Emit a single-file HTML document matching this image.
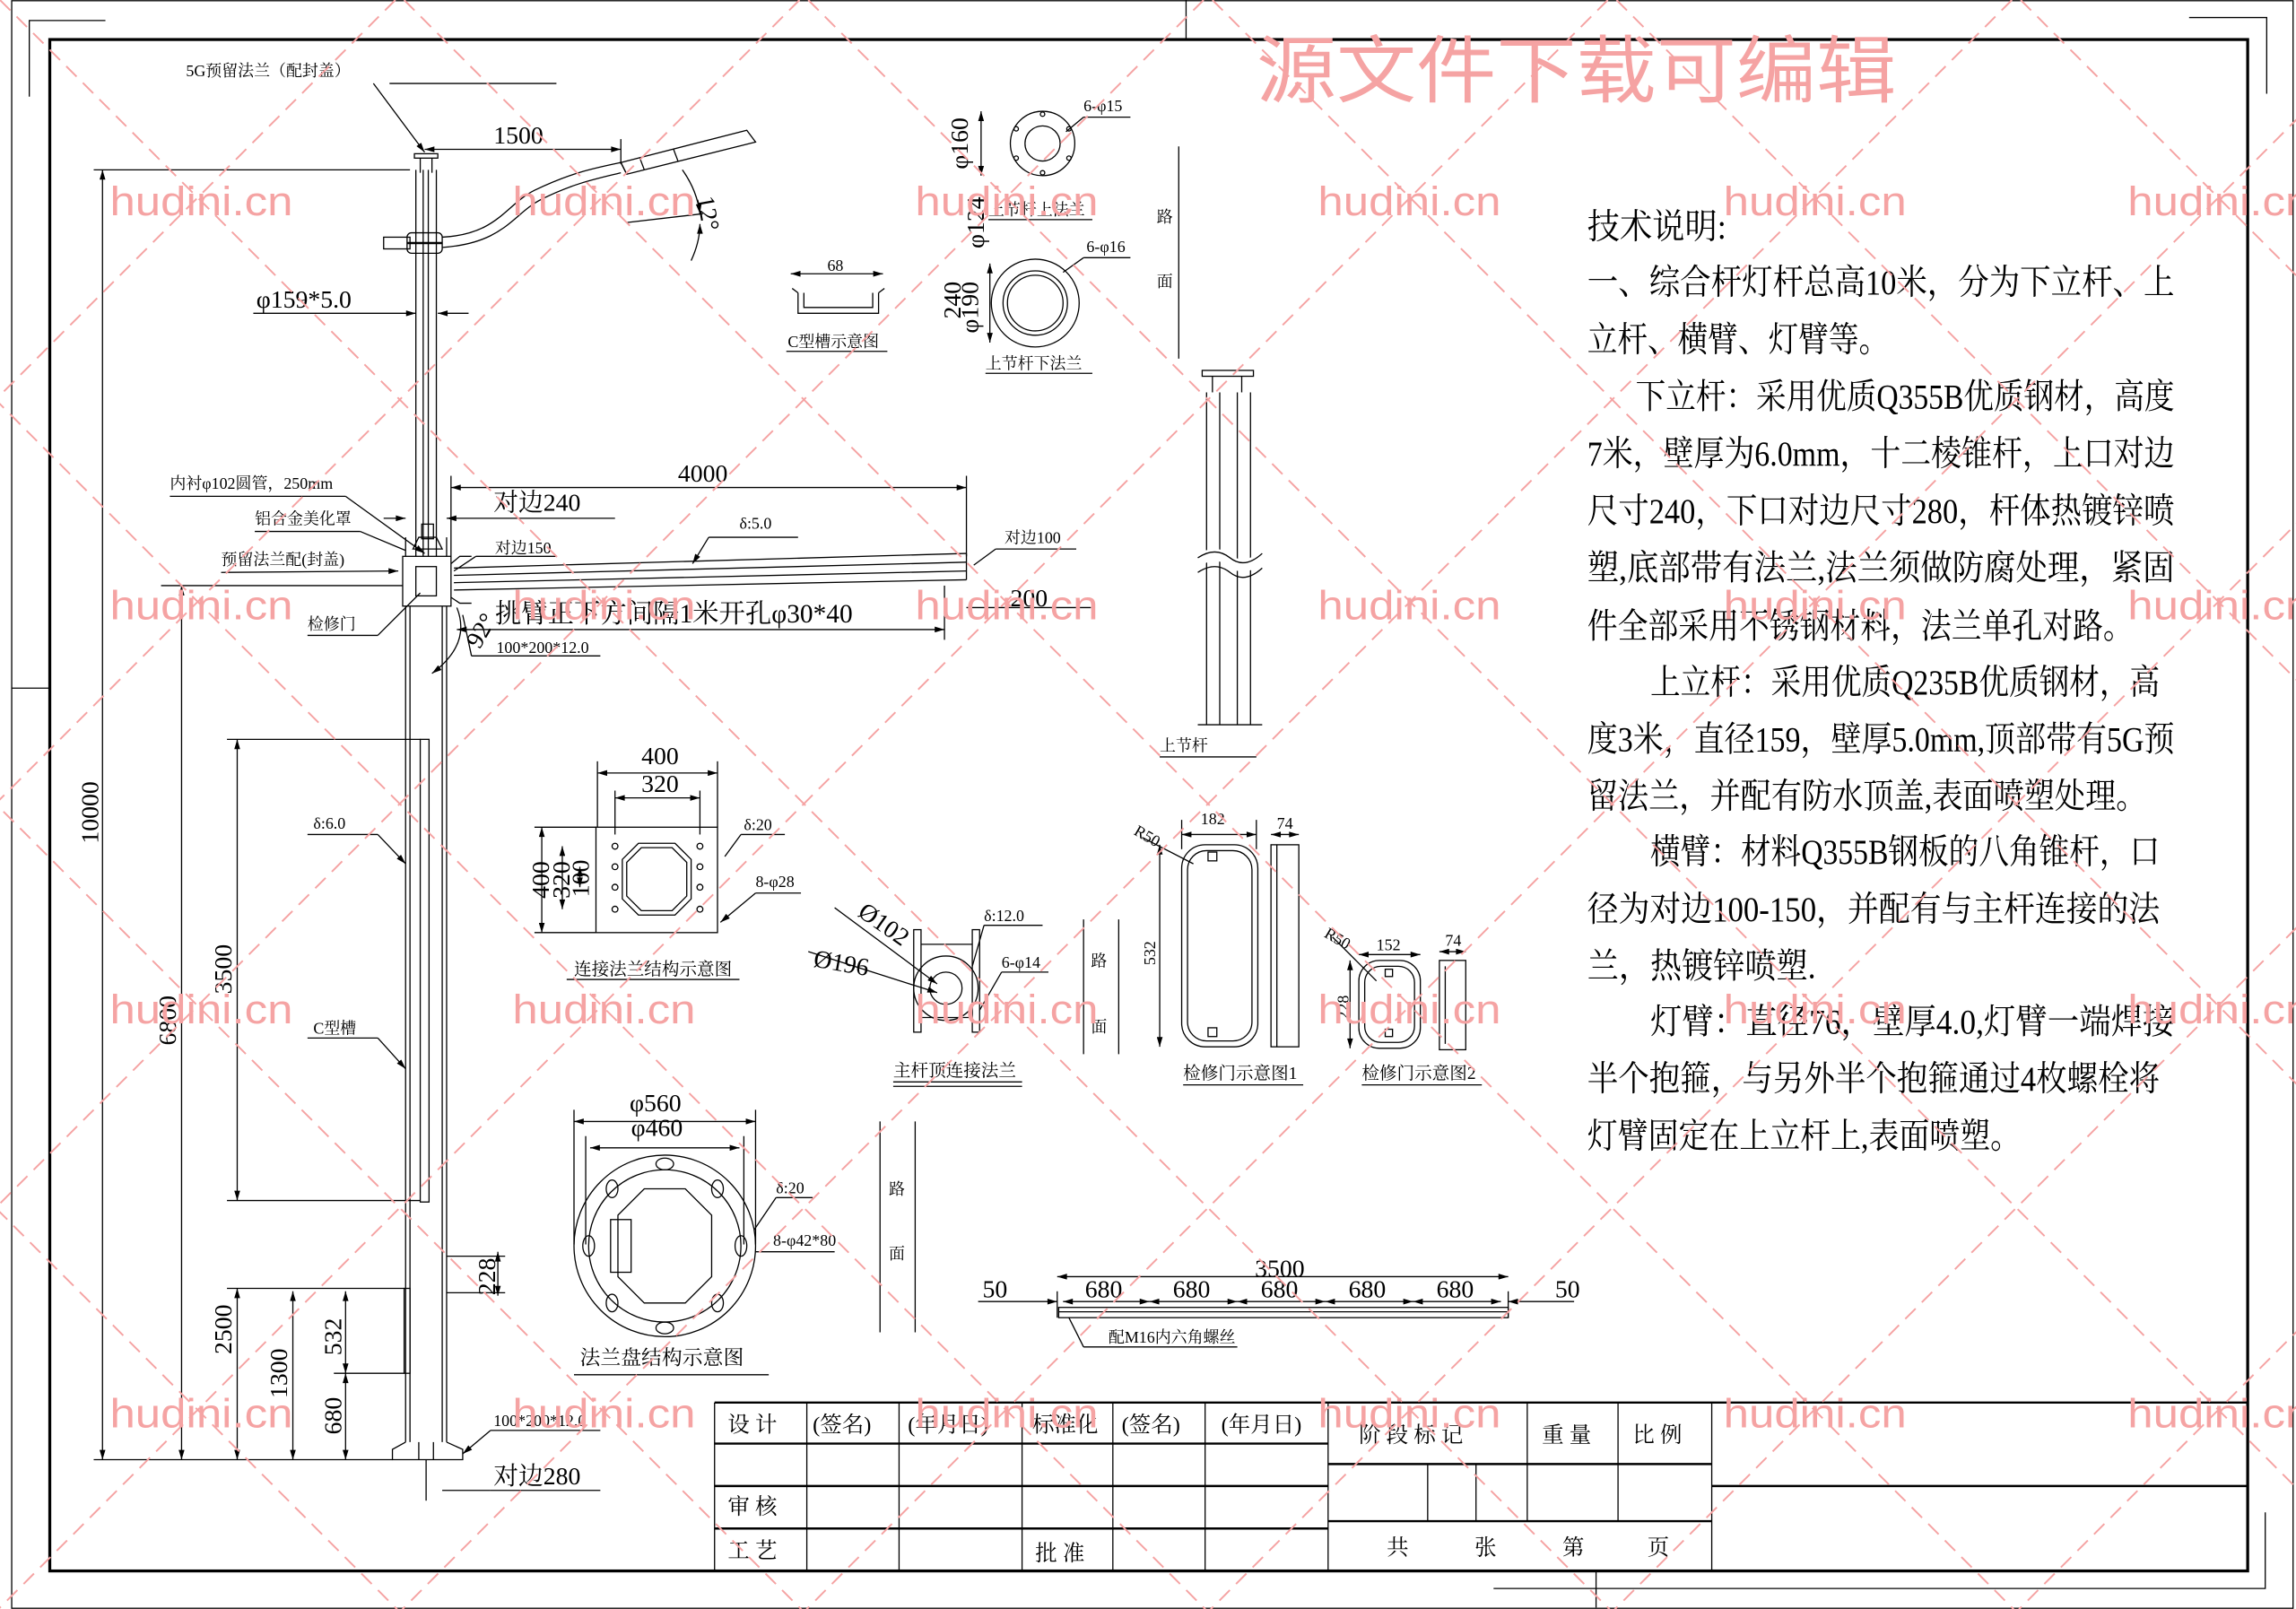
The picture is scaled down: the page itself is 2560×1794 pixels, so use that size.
<!DOCTYPE html>
<html><head><meta charset="utf-8"><style>
html,body{margin:0;padding:0;background:#fff}
svg{display:block}
text{font-family:"Liberation Serif","Noto Serif CJK SC",serif;fill:#000}
.s{font-family:"Liberation Sans","Noto Sans CJK SC",sans-serif}
</style></head><body>
<svg width="2560" height="1794" viewBox="0 0 1568 1099" preserveAspectRatio="none" xmlns="http://www.w3.org/2000/svg">
<defs>
<marker id="a" viewBox="0 0 10 6" refX="10" refY="3" markerWidth="10" markerHeight="4" orient="auto-start-reverse" markerUnits="userSpaceOnUse"><path d="M0,0L10,3L0,6z" fill="#000"/></marker>
</defs>
<rect width="1568" height="1099" fill="#fff"/>
<g stroke="#000" fill="none" stroke-width="0.8">
<rect x="8" y="0.5" width="1558" height="1098" stroke-width="0.8"/>
<rect x="34" y="27" width="1501" height="1046" stroke-width="2"/>
<polyline points="72,14 20,14 20,66"/>
<polyline points="1495,12 1548,12 1548,64"/>
<polyline points="1020,1085 1547,1085 1547,1033"/>
<line x1="8" y1="470" x2="34" y2="470"/>
<line x1="810" y1="0" x2="810" y2="27"/>
<line x1="1090" y1="1073" x2="1090" y2="1098"/>
<line x1="488" y1="958" x2="1535" y2="958" stroke-width="1.5"/>
<line x1="488" y1="986" x2="907" y2="986" stroke-width="1.5"/>
<line x1="488" y1="1015" x2="907" y2="1015" stroke-width="1.5"/>
<line x1="488" y1="1044" x2="907" y2="1044" stroke-width="1.5"/>
<line x1="907" y1="1000" x2="1169" y2="1000" stroke-width="1.5"/>
<line x1="907" y1="1039" x2="1169" y2="1039" stroke-width="1.5"/>
<line x1="1169" y1="1015" x2="1535" y2="1015" stroke-width="1.5"/>
<line x1="488" y1="958" x2="488" y2="1073"/>
<line x1="551" y1="958" x2="551" y2="1073"/>
<line x1="614" y1="958" x2="614" y2="1073"/>
<line x1="698" y1="958" x2="698" y2="1073"/>
<line x1="760" y1="958" x2="760" y2="1073"/>
<line x1="823" y1="958" x2="823" y2="1073"/>
<line x1="907" y1="958" x2="907" y2="1073"/>
<line x1="975" y1="1000" x2="975" y2="1039"/>
<line x1="1008" y1="1000" x2="1008" y2="1039"/>
<line x1="1043" y1="958" x2="1043" y2="1039"/>
<line x1="1105" y1="958" x2="1105" y2="1039"/>
<line x1="1169" y1="958" x2="1169" y2="1073"/>

<rect x="283" y="105" width="16" height="3"/>
<line x1="287" y1="108" x2="287" y2="118"/><line x1="295" y1="108" x2="295" y2="118"/>
<line x1="284" y1="116" x2="284" y2="380"/><line x1="298" y1="116" x2="298" y2="380"/>
<line x1="289" y1="116" x2="289" y2="380"/><line x1="292.5" y1="116" x2="292.5" y2="380"/>
<rect x="262" y="162" width="18" height="8"/>
<rect x="278" y="159" width="24" height="14" rx="3"/>
<line x1="278" y1="166" x2="302" y2="166" stroke-width="1.5"/>
<path d="M302,162 C340,160 345,140 365,130 C390,118 405,115 424,111"/>
<path d="M302,169 C345,166 350,146 370,136 C392,125 408,122 424,118"/>
<path d="M424,111 L510,89 L516,97 L428,119 Z"/>
<line x1="424" y1="111" x2="428" y2="119"/><line x1="437" y1="108" x2="440" y2="116"/>
<line x1="460" y1="102" x2="463" y2="110"/>
<line x1="290" y1="102" x2="424" y2="102" marker-start="url(#a)" marker-end="url(#a)"/>
<line x1="424" y1="95" x2="424" y2="112"/>
<line x1="266" y1="57" x2="380" y2="57"/><line x1="255" y1="57" x2="290" y2="104" marker-end="url(#a)"/>
<line x1="428" y1="152" x2="480" y2="146"/>
<path d="M466,116 Q476,130 478,146" marker-end="url(#a)"/>
<path d="M472,178 Q478,165 478,153" marker-end="url(#a)"/>
<line x1="173" y1="214" x2="284" y2="214" marker-end="url(#a)"/>
<line x1="320" y1="214" x2="299" y2="214" marker-end="url(#a)"/>

<rect x="288" y="358" width="8" height="10"/>
<path d="M282,375 L286,367 L298,367 L302,375 Z"/>
<rect x="275" y="380" width="33" height="34"/>
<rect x="284" y="387" width="14" height="20"/>
<line x1="277" y1="414" x2="277" y2="985"/><line x1="305" y1="414" x2="305" y2="985"/>
<line x1="277" y1="367" x2="277" y2="380"/><line x1="305" y1="367" x2="305" y2="380"/>
<line x1="280" y1="414" x2="280" y2="985"/><line x1="302" y1="414" x2="302" y2="985"/>
<rect x="287" y="505" width="6" height="316"/>
<rect x="276" y="880" width="4" height="58"/>
<path d="M277,985 L268,990 L268,997 L316,997 L316,990 L305,985"/>
<line x1="286" y1="985" x2="286" y2="997"/><line x1="296" y1="985" x2="296" y2="997"/>
<line x1="291" y1="997" x2="291" y2="1025"/>
<path d="M308,385 L314,380 L322,380"/><path d="M308,408 L314,412 L322,412"/>
<line x1="310" y1="388" x2="660" y2="378"/>
<line x1="310" y1="393" x2="660" y2="384"/>
<line x1="310" y1="398" x2="660" y2="390"/>
<line x1="310" y1="403" x2="660" y2="396"/>
<line x1="660" y1="378" x2="660" y2="396"/>
<line x1="308" y1="333" x2="660" y2="333" marker-start="url(#a)" marker-end="url(#a)"/>
<line x1="660" y1="325" x2="660" y2="380"/>
<line x1="308" y1="325" x2="308" y2="380"/>
<line x1="262" y1="354" x2="277" y2="354" marker-end="url(#a)"/>
<line x1="420" y1="354" x2="305" y2="354" marker-end="url(#a)"/>
<line x1="380" y1="380" x2="325" y2="380"/><line x1="325" y1="380" x2="310" y2="390"/>
<line x1="484" y1="367" x2="545" y2="367"/><line x1="484" y1="367" x2="473" y2="385" marker-end="url(#a)"/>
<line x1="680" y1="375" x2="735" y2="375"/><line x1="680" y1="375" x2="665" y2="386"/>
<line x1="312" y1="430" x2="645" y2="430" marker-start="url(#a)" marker-end="url(#a)"/>
<line x1="645" y1="400" x2="645" y2="437"/>
<line x1="660" y1="415" x2="745" y2="415"/>
<path d="M312,415 Q322,440 295,460" marker-end="url(#a)"/>
<line x1="322" y1="448" x2="410" y2="448"/><line x1="322" y1="448" x2="316" y2="420"/>
<line x1="116" y1="339" x2="236" y2="339"/><line x1="236" y1="339" x2="290" y2="378" marker-end="url(#a)"/>
<line x1="174" y1="363" x2="246" y2="363"/><line x1="246" y1="363" x2="277" y2="376"/>
<line x1="151" y1="391" x2="272" y2="390" marker-end="url(#a)"/>
<line x1="210" y1="434" x2="258" y2="434"/><line x1="258" y1="434" x2="287" y2="405"/>
<line x1="210" y1="570" x2="258" y2="570"/><line x1="258" y1="570" x2="277" y2="590" marker-end="url(#a)"/>
<line x1="210" y1="709" x2="258" y2="709"/><line x1="258" y1="709" x2="277" y2="730" marker-end="url(#a)"/>
<line x1="335" y1="977" x2="410" y2="977"/><line x1="335" y1="977" x2="316" y2="993" marker-end="url(#a)"/>
<line x1="335" y1="1018" x2="410" y2="1018"/>
<line x1="302" y1="1018" x2="335" y2="1018"/>
<line x1="64" y1="116" x2="280" y2="116"/>
<line x1="70" y1="116" x2="70" y2="997" marker-start="url(#a)" marker-end="url(#a)"/>
<line x1="64" y1="997" x2="268" y2="997"/>
<line x1="110" y1="400" x2="275" y2="400"/>
<line x1="124" y1="400" x2="124" y2="997" marker-start="url(#a)" marker-end="url(#a)"/>
<line x1="155" y1="505" x2="287" y2="505"/>
<line x1="162" y1="505" x2="162" y2="820" marker-start="url(#a)" marker-end="url(#a)"/>
<line x1="155" y1="820" x2="287" y2="820"/>
<line x1="162" y1="880" x2="162" y2="997" marker-start="url(#a)" marker-end="url(#a)"/>
<line x1="155" y1="880" x2="276" y2="880"/>
<line x1="200" y1="882" x2="200" y2="997" marker-start="url(#a)" marker-end="url(#a)"/>
<line x1="236" y1="882" x2="236" y2="938" marker-start="url(#a)" marker-end="url(#a)"/>
<line x1="236" y1="938" x2="236" y2="997" marker-start="url(#a)" marker-end="url(#a)"/>
<line x1="228" y1="938" x2="276" y2="938"/>
<line x1="340" y1="855" x2="340" y2="885" marker-start="url(#a)" marker-end="url(#a)"/>
<line x1="305" y1="858" x2="345" y2="858"/><line x1="305" y1="883" x2="345" y2="883"/>

<circle cx="712" cy="98" r="22"/><circle cx="712" cy="98" r="12"/>
<circle cx="712" cy="78" r="1.5"/><circle cx="712" cy="118" r="1.5"/><circle cx="694" cy="88" r="1.5"/><circle cx="730" cy="88" r="1.5"/><circle cx="694" cy="108" r="1.5"/><circle cx="730" cy="108" r="1.5"/>
<line x1="670" y1="76" x2="670" y2="120" marker-start="url(#a)" marker-end="url(#a)"/>
<line x1="740" y1="80" x2="772" y2="80"/><line x1="740" y1="80" x2="728" y2="90"/>
<line x1="675" y1="150" x2="746" y2="150"/>
<circle cx="707" cy="207" r="30"/><circle cx="707" cy="207" r="22"/><circle cx="707" cy="207" r="19"/>
<line x1="676" y1="180" x2="676" y2="234" marker-start="url(#a)" marker-end="url(#a)"/>
<line x1="740" y1="176" x2="772" y2="176"/><line x1="740" y1="176" x2="726" y2="186"/>
<line x1="673" y1="255" x2="746" y2="255"/>
<line x1="540" y1="187" x2="603" y2="187" marker-start="url(#a)" marker-end="url(#a)"/>
<path d="M545,200 L545,214 L600,214 L600,200 M549,200 L549,210 L596,210 L596,200 M541,197 L545,200 M604,197 L600,200"/>
<line x1="537" y1="240" x2="606" y2="240"/>
<line x1="805" y1="100" x2="805" y2="245"/>
<rect x="821" y="253" width="35" height="4"/>
<line x1="828" y1="257" x2="828" y2="268"/><line x1="848" y1="257" x2="848" y2="268"/>
<line x1="824" y1="268" x2="824" y2="495"/><line x1="854" y1="268" x2="854" y2="495"/>
<line x1="833" y1="268" x2="833" y2="495"/><line x1="845" y1="268" x2="845" y2="495"/>
<path d="M818,383 Q830,375 840,383 T862,380" stroke="#fff" stroke-width="8"/>
<path d="M818,381 Q830,373 840,381 T862,378"/>
<path d="M818,391 Q830,383 840,391 T862,388"/>
<line x1="818" y1="495" x2="862" y2="495"/>
<line x1="792" y1="517" x2="858" y2="517"/>
<line x1="408" y1="528" x2="490" y2="528" marker-start="url(#a)" marker-end="url(#a)"/>
<line x1="420" y1="545" x2="478" y2="545" marker-start="url(#a)" marker-end="url(#a)"/>
<line x1="408" y1="520" x2="408" y2="565"/><line x1="490" y1="520" x2="490" y2="565"/>
<line x1="420" y1="540" x2="420" y2="570"/><line x1="478" y1="540" x2="478" y2="570"/>
<rect x="407" y="565" width="83" height="72"/>
<polygon points="436,576 461,576 472,587 472,614 461,625 436,625 425,614 425,587"/>
<polygon points="438,579 459,579 469,589 469,612 459,622 438,622 428,612 428,589"/>
<circle cx="420" cy="578" r="2"/><circle cx="420" cy="592" r="2"/><circle cx="420" cy="606" r="2"/><circle cx="420" cy="621" r="2"/>
<circle cx="478" cy="578" r="2"/><circle cx="478" cy="592" r="2"/><circle cx="478" cy="606" r="2"/><circle cx="478" cy="621" r="2"/>
<line x1="365" y1="565" x2="407" y2="565"/><line x1="365" y1="637" x2="407" y2="637"/>
<line x1="370" y1="565" x2="370" y2="637" marker-start="url(#a)" marker-end="url(#a)"/>
<line x1="384" y1="578" x2="384" y2="621" marker-start="url(#a)" marker-end="url(#a)"/>
<line x1="396" y1="592" x2="396" y2="606" marker-start="url(#a)" marker-end="url(#a)"/>
<line x1="506" y1="570" x2="536" y2="570"/><line x1="506" y1="570" x2="495" y2="585"/>
<line x1="516" y1="610" x2="547" y2="610"/><line x1="516" y1="610" x2="492" y2="630" marker-end="url(#a)"/>
<line x1="387" y1="669" x2="505" y2="669"/>
<rect x="624" y="635" width="5" height="70"/><rect x="664" y="635" width="5" height="70"/>
<line x1="629" y1="645" x2="664" y2="645"/><line x1="629" y1="695" x2="664" y2="695"/>
<circle cx="646" cy="675" r="22"/><circle cx="646" cy="675" r="11"/>
<line x1="570" y1="620" x2="640" y2="672" marker-end="url(#a)"/>
<line x1="552" y1="650" x2="640" y2="678" marker-end="url(#a)"/>
<line x1="672" y1="632" x2="712" y2="632"/><line x1="672" y1="632" x2="664" y2="660"/>
<line x1="684" y1="664" x2="716" y2="664"/><line x1="684" y1="664" x2="669" y2="690"/>
<line x1="610" y1="739" x2="698" y2="739"/><line x1="610" y1="742" x2="698" y2="742"/>
<line x1="740" y1="628" x2="740" y2="720"/><line x1="764" y1="628" x2="764" y2="720"/>
<line x1="807" y1="570" x2="858" y2="570" marker-start="url(#a)" marker-end="url(#a)"/>
<line x1="807" y1="560" x2="807" y2="580"/><line x1="858" y1="560" x2="858" y2="580"/>
<rect x="807" y="577" width="52" height="138" rx="16"/>
<rect x="811" y="581" width="44" height="130" rx="13"/>
<rect x="825" y="582" width="6" height="6"/><rect x="825" y="702" width="6" height="6"/>
<line x1="792" y1="577" x2="792" y2="715" marker-start="url(#a)" marker-end="url(#a)"/>
<line x1="780" y1="572" x2="815" y2="590"/>
<rect x="868" y="577" width="19" height="138"/><line x1="872" y1="577" x2="872" y2="715"/>
<line x1="868" y1="570" x2="887" y2="570" marker-start="url(#a)" marker-end="url(#a)"/>
<line x1="808" y1="741" x2="890" y2="741"/>
<line x1="928" y1="652" x2="970" y2="652" marker-start="url(#a)" marker-end="url(#a)"/>
<rect x="928" y="656" width="42" height="60" rx="14"/>
<rect x="932" y="660" width="34" height="52" rx="11"/>
<rect x="946" y="662" width="5" height="5"/><rect x="946" y="703" width="5" height="5"/>
<line x1="922" y1="656" x2="922" y2="716" marker-start="url(#a)" marker-end="url(#a)"/>
<line x1="910" y1="640" x2="940" y2="670"/>
<rect x="983" y="656" width="18" height="61"/><line x1="987" y1="660" x2="987" y2="713"/>
<line x1="983" y1="650" x2="1001" y2="650" marker-start="url(#a)" marker-end="url(#a)"/>
<line x1="930" y1="741" x2="1012" y2="741"/>
<!-- base flange -->
<line x1="392" y1="766" x2="516" y2="766" marker-start="url(#a)" marker-end="url(#a)"/>
<line x1="403" y1="784" x2="505" y2="784" marker-start="url(#a)" marker-end="url(#a)"/>
<line x1="392" y1="758" x2="392" y2="850"/><line x1="516" y1="758" x2="516" y2="850"/>
<line x1="400" y1="776" x2="400" y2="850"/><line x1="508" y1="776" x2="508" y2="850"/>
<ellipse cx="454" cy="851" rx="62" ry="62"/>
<ellipse cx="454" cy="851" rx="52" ry="52"/>
<polygon points="440,812 468,812 486,830 486,872 468,890 440,890 422,872 422,830"/>
<rect x="417" y="833" width="14" height="36"/>
<ellipse cx="454" cy="795" rx="6" ry="4"/><ellipse cx="454" cy="907" rx="6" ry="4"/>
<ellipse cx="402" cy="851" rx="4" ry="7"/><ellipse cx="506" cy="851" rx="4" ry="7"/>
<ellipse cx="418" cy="812" rx="4" ry="6"/><ellipse cx="490" cy="812" rx="4" ry="6"/>
<ellipse cx="418" cy="890" rx="4" ry="6"/><ellipse cx="490" cy="890" rx="4" ry="6"/>
<line x1="530" y1="818" x2="555" y2="818"/><line x1="530" y1="818" x2="515" y2="840"/>
<line x1="516" y1="855" x2="570" y2="855"/>
<line x1="392" y1="939" x2="525" y2="939"/>
<line x1="601" y1="766" x2="601" y2="910"/><line x1="625" y1="766" x2="625" y2="910"/>
<line x1="668" y1="889" x2="722" y2="889" marker-end="url(#a)"/>
<line x1="722" y1="872" x2="1030" y2="872" marker-start="url(#a)" marker-end="url(#a)"/>
<line x1="722" y1="882" x2="722" y2="900"/><line x1="1030" y1="882" x2="1030" y2="900"/>
<line x1="726" y1="889" x2="785" y2="889" marker-start="url(#a)" marker-end="url(#a)"/>
<line x1="785" y1="889" x2="845" y2="889" marker-start="url(#a)" marker-end="url(#a)"/>
<line x1="845" y1="889" x2="905" y2="889" marker-start="url(#a)" marker-end="url(#a)"/>
<line x1="905" y1="889" x2="965" y2="889" marker-start="url(#a)" marker-end="url(#a)"/>
<line x1="965" y1="889" x2="1025" y2="889" marker-start="url(#a)" marker-end="url(#a)"/>
<line x1="1075" y1="889" x2="1030" y2="889" marker-end="url(#a)"/>
<rect x="723" y="893" width="307" height="7"/>
<line x1="723" y1="896" x2="1030" y2="896"/>
<line x1="730" y1="900" x2="740" y2="920"/><line x1="740" y1="920" x2="845" y2="920"/>
</g>

<g font-size="11">
<text x="127" y="52">5G预留法兰（配封盖）</text>
<text x="116" y="334">内衬φ102圆管，250mm</text>
<text x="174" y="358">铝合金美化罩</text>
<text x="151" y="386">预留法兰配(封盖)</text>
<text x="210" y="430">检修门</text>
<text x="338" y="378">对边150</text>
<text x="505" y="361">δ:5.0</text>
<text x="686" y="371">对边100</text>
<text x="339" y="446">100*200*12.0</text>
<text x="214" y="566">δ:6.0</text>
<text x="214" y="706">C型槽</text>
<text x="337" y="974">100*200*12.0</text>
<text x="740" y="76">6-φ15</text>
<text x="675" y="147">上节杆上法兰</text>
<text x="742" y="172">6-φ16</text>
<text x="673" y="252">上节杆下法兰</text>
<text x="565" y="185">68</text>
<text x="538" y="237">C型槽示意图</text>
<text x="790" y="152">路</text><text x="790" y="196">面</text>
<text x="792" y="513">上节杆</text>
<text x="508" y="567">δ:20</text>
<text x="516" y="606">8-φ28</text>
<text x="392" y="666" font-size="12">连接法兰结构示意图</text>
<text x="672" y="629">δ:12.0</text>
<text x="684" y="661">6-φ14</text>
<text x="745" y="660">路</text><text x="745" y="705">面</text>
<text x="610" y="735" font-size="12">主杆顶连接法兰</text>
<text x="775" y="571" transform="rotate(30 777 568)">R50</text>
<text x="820" y="563">182</text><text x="872" y="566">74</text>
<text x="808" y="737" font-size="12">检修门示意图1</text>
<text x="905" y="641" transform="rotate(30 907 638)">R50</text>
<text x="940" y="649">152</text><text x="987" y="646">74</text>
<text x="930" y="737" font-size="12">检修门示意图2</text>
<text x="530" y="815">δ:20</text>
<text x="528" y="851">8-φ42*80</text>
<text x="607" y="816">路</text><text x="607" y="860">面</text>
<text x="757" y="917">配M16内六角螺丝</text>
<text x="789" y="651" transform="rotate(-90 789 651)" text-anchor="middle">532</text>
<text x="921" y="688" transform="rotate(-90 921 688)" text-anchor="middle">228</text>
</g>
<g font-size="17">
<text x="337" y="98">1500</text>
<text x="476" y="145" transform="rotate(80 482 140)">12°</text>
<text x="175" y="210">φ159*5.0</text>
<text x="337" y="349">对边240</text>
<text x="463" y="329">4000</text>
<text x="338" y="425" font-size="18">挑臂正下方间隔1米开孔φ30*40</text>
<text x="690" y="414">200</text>
<text x="316" y="440" transform="rotate(-60 325 432)">92°</text>
<text x="337" y="1014">对边280</text>
<text x="67" y="555" transform="rotate(-90 67 555)" text-anchor="middle">10000</text>
<text x="120" y="697" transform="rotate(-90 120 697)" text-anchor="middle">6800</text>
<text x="158" y="662" transform="rotate(-90 158 662)" text-anchor="middle">3500</text>
<text x="158" y="908" transform="rotate(-90 158 908)" text-anchor="middle">2500</text>
<text x="196" y="938" transform="rotate(-90 196 938)" text-anchor="middle">1300</text>
<text x="233" y="913" transform="rotate(-90 233 913)" text-anchor="middle">532</text>
<text x="233" y="967" transform="rotate(-90 233 967)" text-anchor="middle">680</text>
<text x="338" y="872" transform="rotate(-90 338 872)" text-anchor="middle">228</text>
<text x="661" y="98" transform="rotate(-90 661 98)" text-anchor="middle">φ160</text>
<text x="672" y="152" transform="rotate(-90 672 152)" text-anchor="middle">φ124</text>
<text x="656" y="205" transform="rotate(-90 656 205)" text-anchor="middle">240</text>
<text x="668" y="210" transform="rotate(-90 668 210)" text-anchor="middle">φ190</text>
<text x="438" y="522">400</text>
<text x="438" y="541">320</text>
<text x="375" y="601" transform="rotate(-90 375 601)" text-anchor="middle">400</text>
<text x="389" y="601" transform="rotate(-90 389 601)" text-anchor="middle">320</text>
<text x="402" y="600" transform="rotate(-90 402 600)" text-anchor="middle">100</text>
<text x="585" y="625" transform="rotate(35 585 625)">Ø102</text>
<text x="555" y="660" transform="rotate(10 555 660)">Ø196</text>
<text x="430" y="759">φ560</text>
<text x="431" y="776">φ460</text>
<text x="396" y="932" font-size="14">法兰盘结构示意图</text>
<text x="671" y="886">50</text>
<text x="741" y="886">680</text><text x="801" y="886">680</text><text x="861" y="886">680</text><text x="921" y="886">680</text><text x="981" y="886">680</text>
<text x="857" y="872">3500</text>
<text x="1062" y="886">50</text>
</g>

<g font-size="24">
<text x="1084" y="163" textLength="95" lengthAdjust="spacingAndGlyphs">技术说明:</text>
<text x="1084" y="201" textLength="401" lengthAdjust="spacingAndGlyphs">一、综合杆灯杆总高10米，分为下立杆、上</text>
<text x="1084" y="240" textLength="206" lengthAdjust="spacingAndGlyphs">立杆、横臂、灯臂等。</text>
<text x="1117" y="279" textLength="368" lengthAdjust="spacingAndGlyphs">下立杆：采用优质Q355B优质钢材，高度</text>
<text x="1084" y="318" textLength="401" lengthAdjust="spacingAndGlyphs">7米，壁厚为6.0mm，十二棱锥杆，上口对边</text>
<text x="1084" y="357" textLength="401" lengthAdjust="spacingAndGlyphs">尺寸240，下口对边尺寸280，杆体热镀锌喷</text>
<text x="1084" y="396" textLength="401" lengthAdjust="spacingAndGlyphs">塑,底部带有法兰,法兰须做防腐处理，紧固</text>
<text x="1084" y="436" textLength="373" lengthAdjust="spacingAndGlyphs">件全部采用不锈钢材料，法兰单孔对路。</text>
<text x="1127" y="474" textLength="348" lengthAdjust="spacingAndGlyphs">上立杆：采用优质Q235B优质钢材，高</text>
<text x="1084" y="513" textLength="401" lengthAdjust="spacingAndGlyphs">度3米，直径159，壁厚5.0mm,顶部带有5G预</text>
<text x="1084" y="552" textLength="382" lengthAdjust="spacingAndGlyphs">留法兰，并配有防水顶盖,表面喷塑处理。</text>
<text x="1127" y="590" textLength="348" lengthAdjust="spacingAndGlyphs">横臂：材料Q355B钢板的八角锥杆，口</text>
<text x="1084" y="629" textLength="391" lengthAdjust="spacingAndGlyphs">径为对边100-150，并配有与主杆连接的法</text>
<text x="1084" y="668" textLength="156" lengthAdjust="spacingAndGlyphs">兰，热镀锌喷塑.</text>
<text x="1127" y="706" textLength="358" lengthAdjust="spacingAndGlyphs">灯臂：直径76，壁厚4.0,灯臂一端焊接</text>
<text x="1084" y="745" textLength="391" lengthAdjust="spacingAndGlyphs">半个抱箍，与另外半个抱箍通过4枚螺栓将</text>
<text x="1084" y="784" textLength="296" lengthAdjust="spacingAndGlyphs">灯臂固定在上立杆上,表面喷塑。</text>
</g>

<g font-size="15">
<text x="497" y="978">设  计</text><text x="555" y="978">(签名)</text><text x="620" y="978">(年月日)</text>
<text x="705" y="978">标准化</text><text x="766" y="978">(签名)</text><text x="834" y="978">(年月日)</text>
<text x="928" y="985">阶  段  标  记</text><text x="1053" y="985">重  量</text><text x="1115" y="985">比  例</text>
<text x="497" y="1034">审  核</text>
<text x="497" y="1064">工  艺</text>
<text x="707" y="1066">批  准</text>
<text x="947" y="1062">共</text><text x="1007" y="1062">张</text><text x="1067" y="1062">第</text><text x="1125" y="1062">页</text>
</g>

<g stroke="#f5a3a3" stroke-width="1.2" stroke-dasharray="10 6" fill="none">
<line x1="-1104" y1="0" x2="-4" y2="1100"/>
<line x1="-828" y1="0" x2="272" y2="1100"/>
<line x1="-552" y1="0" x2="548" y2="1100"/>
<line x1="-276" y1="0" x2="824" y2="1100"/>
<line x1="0" y1="0" x2="1100" y2="1100"/>
<line x1="276" y1="0" x2="1376" y2="1100"/>
<line x1="552" y1="0" x2="1652" y2="1100"/>
<line x1="828" y1="0" x2="1928" y2="1100"/>
<line x1="1104" y1="0" x2="2204" y2="1100"/>
<line x1="1380" y1="0" x2="2480" y2="1100"/>
<line x1="270" y1="0" x2="-830" y2="1100"/>
<line x1="546" y1="0" x2="-554" y2="1100"/>
<line x1="822" y1="0" x2="-278" y2="1100"/>
<line x1="1098" y1="0" x2="-2" y2="1100"/>
<line x1="1374" y1="0" x2="274" y2="1100"/>
<line x1="1650" y1="0" x2="550" y2="1100"/>
<line x1="1926" y1="0" x2="826" y2="1100"/>
<line x1="2202" y1="0" x2="1102" y2="1100"/>
<line x1="2478" y1="0" x2="1378" y2="1100"/>
<line x1="2754" y1="0" x2="1654" y2="1100"/>
</g>
<g font-size="28">
<text class="s" x="858" y="66" font-size="50" textLength="437" lengthAdjust="spacingAndGlyphs" style="fill:#f5a3a3">源文件下载可编辑</text>
<text class="s" x="75" y="147" textLength="125" lengthAdjust="spacingAndGlyphs" style="fill:#f5a3a3">hudini.cn</text><text class="s" x="350" y="147" textLength="125" lengthAdjust="spacingAndGlyphs" style="fill:#f5a3a3">hudini.cn</text><text class="s" x="625" y="147" textLength="125" lengthAdjust="spacingAndGlyphs" style="fill:#f5a3a3">hudini.cn</text><text class="s" x="900" y="147" textLength="125" lengthAdjust="spacingAndGlyphs" style="fill:#f5a3a3">hudini.cn</text><text class="s" x="1177" y="147" textLength="125" lengthAdjust="spacingAndGlyphs" style="fill:#f5a3a3">hudini.cn</text><text class="s" x="1453" y="147" textLength="125" lengthAdjust="spacingAndGlyphs" style="fill:#f5a3a3">hudini.cn</text>
<text class="s" x="75" y="423" textLength="125" lengthAdjust="spacingAndGlyphs" style="fill:#f5a3a3">hudini.cn</text><text class="s" x="350" y="423" textLength="125" lengthAdjust="spacingAndGlyphs" style="fill:#f5a3a3">hudini.cn</text><text class="s" x="625" y="423" textLength="125" lengthAdjust="spacingAndGlyphs" style="fill:#f5a3a3">hudini.cn</text><text class="s" x="900" y="423" textLength="125" lengthAdjust="spacingAndGlyphs" style="fill:#f5a3a3">hudini.cn</text><text class="s" x="1177" y="423" textLength="125" lengthAdjust="spacingAndGlyphs" style="fill:#f5a3a3">hudini.cn</text><text class="s" x="1453" y="423" textLength="125" lengthAdjust="spacingAndGlyphs" style="fill:#f5a3a3">hudini.cn</text>
<text class="s" x="75" y="699" textLength="125" lengthAdjust="spacingAndGlyphs" style="fill:#f5a3a3">hudini.cn</text><text class="s" x="350" y="699" textLength="125" lengthAdjust="spacingAndGlyphs" style="fill:#f5a3a3">hudini.cn</text><text class="s" x="625" y="699" textLength="125" lengthAdjust="spacingAndGlyphs" style="fill:#f5a3a3">hudini.cn</text><text class="s" x="900" y="699" textLength="125" lengthAdjust="spacingAndGlyphs" style="fill:#f5a3a3">hudini.cn</text><text class="s" x="1177" y="699" textLength="125" lengthAdjust="spacingAndGlyphs" style="fill:#f5a3a3">hudini.cn</text><text class="s" x="1453" y="699" textLength="125" lengthAdjust="spacingAndGlyphs" style="fill:#f5a3a3">hudini.cn</text>
<text class="s" x="75" y="975" textLength="125" lengthAdjust="spacingAndGlyphs" style="fill:#f5a3a3">hudini.cn</text><text class="s" x="350" y="975" textLength="125" lengthAdjust="spacingAndGlyphs" style="fill:#f5a3a3">hudini.cn</text><text class="s" x="625" y="975" textLength="125" lengthAdjust="spacingAndGlyphs" style="fill:#f5a3a3">hudini.cn</text><text class="s" x="900" y="975" textLength="125" lengthAdjust="spacingAndGlyphs" style="fill:#f5a3a3">hudini.cn</text><text class="s" x="1177" y="975" textLength="125" lengthAdjust="spacingAndGlyphs" style="fill:#f5a3a3">hudini.cn</text><text class="s" x="1453" y="975" textLength="125" lengthAdjust="spacingAndGlyphs" style="fill:#f5a3a3">hudini.cn</text>
</g>
</svg>
</body></html>
